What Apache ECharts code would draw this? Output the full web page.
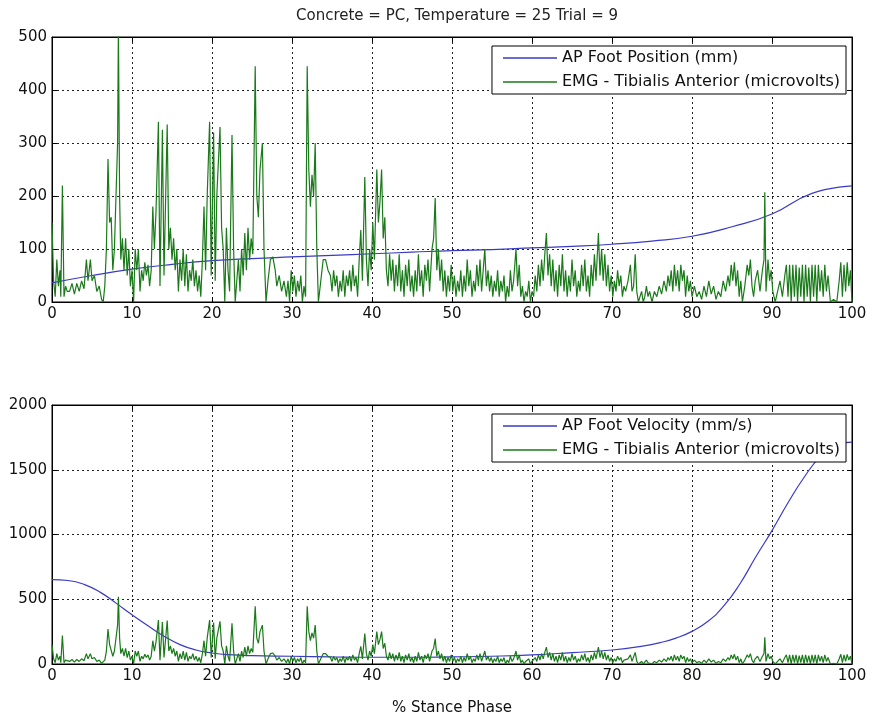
<!DOCTYPE html>
<html>
<head>
<meta charset="utf-8">
<script src="https://cdn.jsdelivr.net/npm/echarts@6/dist/echarts.min.js"></script>
<style>
html, body {margin: 0; padding: 0; background: #fff;}
#container {width: 874px; height: 717px;}
</style>
</head>
<body>
<div id="container"></div>
<script>
// % stance phase vs AP foot position (mm)
var positionData = [
    [0, 36], [5, 50], [10, 62], [15, 71], [20, 78], [25, 82], [30, 85], [35, 88],
    [40, 91], [45, 94], [50, 97], [55, 99], [60, 102], [65, 105], [70, 109], [75, 115],
    [80, 124], [85, 142], [90, 166], [95, 205], [100, 219]
];
// % stance phase vs AP foot velocity (mm/s)
var velocityData = [
    [0, 652], [2, 645], [4, 615], [6, 555], [8, 470], [10, 380], [12, 295], [14, 215],
    [16, 150], [18, 108], [20, 85], [22, 72], [25, 64], [30, 60], [35, 55], [40, 52],
    [45, 52], [50, 55], [55, 60], [60, 70], [65, 88], [70, 108], [74, 140], [76, 165], [78, 200],
    [80, 252], [82, 330], [84, 450], [86, 620], [88, 830], [90, 1030], [92, 1245],
    [94, 1440], [96, 1600], [98, 1690], [100, 1713]
];
// EMG tibialis anterior (microvolts)
var emgData = [
    [0,150],[0.2,40],[0.4,10],[0.6,80],[0.8,30],[1.0,60],[1.1,10],[1.3,220],[1.5,10],[1.7,30],[1.9,20],
    [2.2,20],[2.5,35],[2.8,15],[3.1,35],[3.4,20],[3.7,40],[4.0,25],[4.3,80],[4.5,40],[4.8,80],[5.0,40],
    [5.3,50],[5.6,20],[5.9,30],[6.2,5],[6.4,0],[6.6,30],
    [6.8,100],[7.0,270],[7.2,150],[7.4,160],[7.6,60],[7.8,100],[8.0,200],[8.2,300],[8.3,520],[8.45,200],
    [8.6,80],[8.8,120],[9.0,60],[9.2,120],[9.4,50],[9.6,100],[9.8,30],[10.0,60],
    [10.2,0],[10.4,100],[10.6,60],[10.8,100],[11.0,20],[11.2,60],[11.4,40],[11.6,75],[11.8,50],[12.0,70],
    [12.2,30],[12.4,60],[12.6,180],[12.8,100],[13.0,170],[13.3,340],[13.5,30],[13.8,325],[14.0,50],
    [14.4,335],[14.6,100],[14.8,140],[15.0,80],[15.2,120],[15.4,60],[15.6,100],
    [15.8,20],[16.0,80],[16.2,40],[16.4,100],[16.6,30],[16.8,90],[17.0,20],[17.2,60],[17.4,40],[17.6,80],
    [17.8,30],[18.0,60],[18.2,20],[18.4,50],[18.6,10],[18.8,80],
    [19.0,180],[19.2,60],[19.4,200],[19.7,340],[19.9,50],[20.2,320],[20.4,40],[20.6,200],[21.0,330],
    [21.2,140],[21.4,100],[21.6,0],[21.8,140],[22.0,60],[22.2,20],[22.5,315],[22.7,100],[22.9,0],
    [23.1,40],[23.3,80],[23.5,20],[23.7,100],[23.9,50],[24.1,130],[24.3,60],[24.5,140],[24.7,80],
    [24.9,120],[25.1,90],[25.4,445],[25.6,200],[25.8,160],[26.0,250],[26.3,300],[26.5,100],[26.75,0],
    [27.0,40],[27.3,80],[27.6,85],[27.9,60],[28.1,30],[28.4,50],[28.7,20],[29.0,40],[29.3,10],[29.5,40],
    [29.7,0],[29.9,60],[30.1,20],[30.3,50],[30.5,10],[30.7,40],[30.9,20],[31.1,50],[31.3,0],[31.5,30],[31.7,10],
    [31.9,445],[32.1,250],[32.3,180],[32.5,240],[32.7,200],[32.9,300],[33.1,100],[33.3,0],[33.6,40],
    [33.9,80],[34.2,80],[34.5,60],[34.8,50],
    [35.0,20],[35.2,60],[35.4,30],[35.6,50],[35.8,10],[36.0,40],[36.2,20],[36.4,60],[36.6,10],[36.8,50],
    [37.0,30],[37.2,60],[37.4,20],[37.6,70],[37.8,30],[38.0,50],[38.2,10],[38.4,80],[38.6,136],[38.8,40],
    [39.1,236],[39.3,80],[39.5,30],[39.7,100],[39.9,60],
    [40.1,150],[40.3,80],[40.6,250],[40.8,150],[41.0,190],[41.2,250],[41.4,120],[41.6,160],[41.8,60],
    [42.0,30],[42.2,90],[42.4,40],
    [42.6,80],[42.8,20],[43.0,70],[43.2,30],[43.4,90],[43.6,20],[43.8,60],[44.0,10],[44.2,70],[44.4,30],
    [44.6,80],[44.8,20],[45.0,50],[45.2,10],[45.4,60],[45.6,20],[45.8,90],[46.0,30],[46.2,60],[46.4,10],
    [46.6,70],[46.8,40],[47.0,80],[47.2,20],[47.5,100],[47.7,120],[47.9,196],[48.1,60],[48.3,100],
    [48.5,40],[48.7,80],[48.9,20],[49.1,60],[49.3,10],[49.5,50],[49.7,20],[49.9,70],
    [50.1,20],[50.3,50],[50.5,10],[50.7,40],[50.9,20],[51.1,60],[51.3,10],[51.5,50],[51.7,20],[51.9,80],
    [52.1,30],[52.3,60],[52.5,10],[52.7,40],[52.9,20],[53.1,70],[53.3,30],[53.5,80],[53.7,20],[54.1,100],
    [54.3,30],[54.5,60],[54.7,20],[54.9,50],[55.1,10],[55.3,40],[55.5,20],[55.7,60],[55.9,10],[56.1,40],
    [56.3,20],[56.5,50],[56.7,0],[56.9,30],[57.1,10],[57.3,60],[57.5,20],[57.7,40],[58.0,100],[58.2,30],
    [58.4,70],[58.6,10],[58.8,30],[59.0,0],[59.2,20],[59.4,10],[59.6,40],[59.8,0],[60.0,20],[60.2,10],
    [60.4,50],[60.6,20],[60.8,70],[61.0,30],[61.2,80],[61.4,40],[61.6,90],[61.8,130],[62.0,50],[62.2,90],
    [62.4,30],[62.6,80],[62.8,20],[63.0,60],
    [63.2,10],[63.4,70],[63.6,30],[63.8,90],[64.0,20],[64.2,60],[64.4,10],[64.6,50],[64.8,20],[65.0,80],
    [65.2,30],[65.4,60],[65.6,10],[65.8,40],[66.0,20],[66.2,70],[66.4,30],[66.6,80],[66.8,20],[67.0,50],
    [67.2,10],[67.4,70],[67.6,30],[67.8,90],[68.0,40],[68.3,130],[68.5,50],[68.7,100],[68.9,40],[69.1,90],
    [69.3,30],[69.5,70],[69.7,20],[69.9,50],[70.1,10],[70.3,40],[70.5,20],[70.7,60],[70.9,30],[71.1,50],
    [71.3,10],[71.5,30],[71.7,20],[72.0,40],[72.3,70],[72.5,20],[72.7,30],[72.9,90],[73.1,20],[73.3,0],
    [73.5,10],[73.7,20],[73.9,0],[74.1,10],[74.3,30],[74.5,10],[74.7,20],
    [75.0,0],[75.3,20],[75.6,10],[75.9,30],[76.2,15],[76.5,40],[76.8,20],[77.0,50],[77.2,30],[77.4,60],
    [77.6,20],[77.8,70],[78.0,30],[78.2,60],[78.4,20],[78.6,70],[78.8,40],[79.0,60],[79.2,10],[79.4,50],
    [79.6,20],[79.8,40],[80.0,10],[80.3,30],[80.6,10],[80.9,20],[81.2,5],[81.5,30],[81.8,10],[82.1,40],
    [82.4,15],[82.7,30],[83.0,5],[83.3,20],[83.6,10],[83.9,40],[84.2,20],[84.5,50],[84.7,30],[84.9,70],
    [85.1,40],[85.3,75],[85.5,30],[85.7,60],[85.9,10],[86.1,40],[86.3,0],[86.6,30],[86.9,70],[87.1,50],
    [87.3,80],[87.5,30],[87.7,10],[87.9,40],[88.2,60],[88.5,20],[88.8,60],[89.0,80],[89.1,207],[89.25,20],
    [89.5,80],[89.7,40],[89.9,60],[90.1,20],[90.4,0],[90.7,20],[91.0,40],[91.3,10],[91.6,50],[91.8,70],
    [92.0,10],[92.2,70],[92.4,0],[92.6,70],[92.8,10],[93.0,70],[93.2,0],[93.4,65],[93.6,10],[93.8,70],
    [94.0,0],[94.2,70],[94.4,10],[94.6,65],[94.8,0],[95.0,70],[95.2,10],[95.4,70],[95.6,0],[95.8,70],
    [96.0,20],[96.2,60],[96.4,10],[96.6,70],[96.8,20],[97.0,50],[97.3,0],[97.7,5],[98.1,0],[98.4,40],
    [98.6,75],[98.8,10],[99.0,70],[99.2,20],[99.4,75],[99.6,30],[99.8,60],[100,0]
];

var titleText = 'Concrete = PC, Temperature = 25 Trial = 9';
var posName = 'AP Foot Position (mm)';
var velName = 'AP Foot Velocity (mm/s)';
var emgName = 'EMG - Tibialis Anterior (microvolts)';
var xName = '% Stance Phase';

var blue = '#3a3ac8';
var green = '#1a7a1a';
var font = 'DejaVu Sans';

var dom = document.getElementById("container");
var myChart = echarts.init(dom);

var gridLine = {show: true, lineStyle: {color: '#222', type: [2, 3], width: 1}};
var tick = {show: true, inside: true, length: 5, lineStyle: {color: '#000'}};
var axisLine = {show: true, onZero: false, lineStyle: {color: '#000', width: 1}};

function plainNumber(v) {
    return String(v);
}

function xAxes(gridIndex, withName) {
    var main = {
        type: 'value', gridIndex: gridIndex, min: 0, max: 100, interval: 10,
        position: 'bottom', axisLine: axisLine, axisTick: tick, splitLine: gridLine,
        axisLabel: {color: '#111', fontSize: 15, fontFamily: font, margin: 5, formatter: plainNumber}
    };
    if (withName) {
        main.name = xName;
        main.nameLocation = 'middle';
        main.nameGap = 37;
        main.nameTextStyle = {color: '#111', fontSize: 15, fontFamily: font};
    }
    var top = {
        type: 'value', gridIndex: gridIndex, min: 0, max: 100, interval: 10,
        position: 'top', axisLine: axisLine, axisTick: tick,
        splitLine: {show: false}, axisLabel: {show: false}
    };
    return [main, top];
}

function yAxes(gridIndex, max, interval) {
    var main = {
        type: 'value', gridIndex: gridIndex, min: 0, max: max, interval: interval,
        position: 'left', axisLine: axisLine, axisTick: tick, splitLine: gridLine,
        axisLabel: {color: '#111', fontSize: 15, fontFamily: font, margin: 5, formatter: plainNumber}
    };
    var right = {
        type: 'value', gridIndex: gridIndex, min: 0, max: max, interval: interval,
        position: 'right', axisLine: axisLine, axisTick: tick,
        splitLine: {show: false}, axisLabel: {show: false}
    };
    return [main, right];
}

function legend(top, first) {
    return {
        right: 28, top: top, orient: 'vertical',
        data: [first, emgName],
        icon: 'rect',
        backgroundColor: '#fff', borderColor: '#000', borderWidth: 1,
        padding: [2, 6, 2, 11], itemWidth: 54, itemHeight: 1.5, itemGap: 4,
        selectedMode: false,
        textStyle: {color: '#111', fontSize: 16, lineHeight: 20, fontFamily: font}
    };
}

option = null;
option = {
    backgroundColor: '#fff',
    animation: false,
    title: {
        text: titleText, left: 452, top: 4, textAlign: 'center',
        textStyle: {color: '#222', fontSize: 15, fontWeight: 'normal', fontFamily: font}
    },
    legend: [legend(46, posName), legend(414, velName)],
    grid: [
        {left: 52, right: 22, top: 37, height: 265, show: true, borderColor: '#000', borderWidth: 1},
        {left: 52, right: 22, top: 405, height: 265, show: true, borderColor: '#000', borderWidth: 1}
    ],
    xAxis: xAxes(0, false).concat(xAxes(1, true)),
    yAxis: yAxes(0, 500, 100).concat(yAxes(1, 2000, 500)),
    series: [
        {
            name: posName, type: 'line', xAxisIndex: 0, yAxisIndex: 0,
            data: positionData, smooth: true, symbol: 'none',
            lineStyle: {color: blue, width: 1.2}, itemStyle: {color: blue}
        },
        {
            name: emgName, type: 'line', xAxisIndex: 0, yAxisIndex: 0,
            data: emgData, symbol: 'none', clip: true,
            lineStyle: {color: green, width: 1.2}, itemStyle: {color: green}
        },
        {
            name: velName, type: 'line', xAxisIndex: 2, yAxisIndex: 2,
            data: velocityData, smooth: true, symbol: 'none',
            lineStyle: {color: blue, width: 1.2}, itemStyle: {color: blue}
        },
        {
            name: emgName, type: 'line', xAxisIndex: 2, yAxisIndex: 2,
            data: emgData, symbol: 'none', clip: true,
            lineStyle: {color: green, width: 1.2}, itemStyle: {color: green}
        }
    ]
};
if (option && typeof option === "object") {
    myChart.setOption(option, true);
}
</script>
</body>
</html>
